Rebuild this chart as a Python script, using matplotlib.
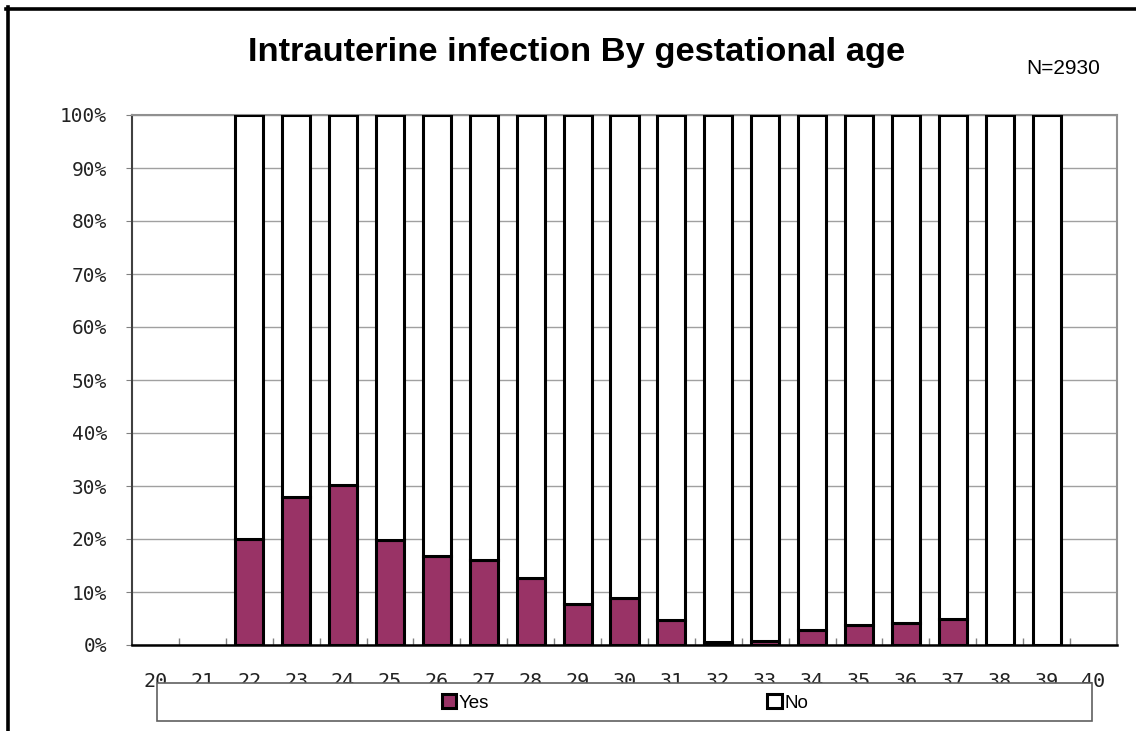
import matplotlib
matplotlib.use("Agg")
import matplotlib.pyplot as plt
from matplotlib.patches import Rectangle, Patch
from matplotlib.lines import Line2D
import numpy as np

categories = [str(w) for w in range(20, 41)]
yes_pct = [np.nan, np.nan, 20.0, 27.9, 30.2, 19.9, 16.7, 16.0, 12.6, 7.7, 8.9, 4.8,
           0.6, 0.7, 2.8, 3.8, 4.2, 5.0, 0.0, 0.0, np.nan]
has_bar = [False, False] + [True] * 18 + [False]
yes_vals = [0 if np.isnan(v) else v for v in yes_pct]
no_vals = [(100 - y) if b else 0 for y, b in zip(yes_vals, has_bar)]
y_ticks = list(range(0, 101, 10))
y_labels = [f"{t}%" for t in y_ticks]

W, H = 1136, 731
fig = plt.figure(figsize=(W / 100, H / 100), dpi=100)
ax = fig.add_axes([132 / W, 1 - 645 / H, (1117 - 132) / W, (645 - 115) / H])

x = np.arange(len(categories))
mask = np.array(has_bar)
yes_color = "#993366"
ax.bar(x[mask], np.array(yes_vals)[mask], width=0.6, color=yes_color,
       edgecolor="black", linewidth=2.2, zorder=3)
ax.bar(x[mask], np.array(no_vals)[mask], width=0.6, bottom=np.array(yes_vals)[mask],
       color="white", edgecolor="black", linewidth=2.2, zorder=3)

ax.set_xlim(-0.5, len(categories) - 0.5)
ax.set_ylim(0, 100)
ax.set_yticks(y_ticks)
ax.set_yticklabels(y_labels, fontfamily="DejaVu Sans Mono", fontsize=14, color="#222222")
ax.set_xticks(x)
ax.set_xticklabels(categories, fontfamily="DejaVu Sans Mono", fontsize=14.5, color="#222222")
ax.tick_params(axis="x", length=0, pad=19.5)
ax.set_xticks(np.arange(0.5, len(categories) - 0.5, 1), minor=True)
ax.tick_params(axis="x", which="minor", direction="in", length=5, color="#808080", width=1)
ax.tick_params(axis="y", direction="out", length=4, color="#808080", pad=14)

ax.yaxis.grid(True, color="#a0a0a0", linewidth=1, zorder=0)
ax.set_axisbelow(True)
for side in ["top", "right"]:
    ax.spines[side].set_color("#909090")
    ax.spines[side].set_linewidth(1.5)
ax.spines["left"].set_color("#404040")
ax.spines["left"].set_linewidth(1.5)
ax.spines["bottom"].set_color("black")
ax.spines["bottom"].set_linewidth(1.8)

fig.text((248 + 905) / 2 / W, 1 - 53 / H, "Intrauterine infection By gestational age",
         ha="center", va="center", fontsize=24.8, fontweight="bold",
         family=["Liberation Sans", "DejaVu Sans"])
fig.text(1100 / W, 1 - 68 / H, "N=2930", ha="right", va="center", fontsize=15,
         family=["Liberation Sans", "DejaVu Sans"])

# legend box
box = Rectangle((157 / W, 1 - 721 / H), (1092 - 157) / W, (721 - 683) / H,
                transform=fig.transFigure, facecolor="white", edgecolor="#606060",
                linewidth=1.2, zorder=10)
fig.patches.append(box)
handles = [Patch(facecolor=yes_color, edgecolor="black", linewidth=2.2, label="Yes"),
           Patch(facecolor="white", edgecolor="black", linewidth=2.2, label="No")]
leg = fig.legend(handles=handles, loc="center", bbox_to_anchor=(625 / W, 1 - 703 / H),
                 ncol=2, frameon=False, handlelength=0.75, handleheight=0.75,
                 handletextpad=0.15, columnspacing=14.85,
                 prop={"family": ["Liberation Sans", "DejaVu Sans"], "size": 13.5})
leg.set_zorder(11)

# outer frame lines (left and top)
fig.add_artist(Line2D([7.5 / W, 7.5 / W], [0, 1 - 7 / H], transform=fig.transFigure,
                      color="black", linewidth=2.6))
fig.add_artist(Line2D([6 / W, 1], [1 - 8.5 / H, 1 - 8.5 / H], transform=fig.transFigure,
                      color="black", linewidth=2.6))

fig.savefig("out.png", dpi=100)
